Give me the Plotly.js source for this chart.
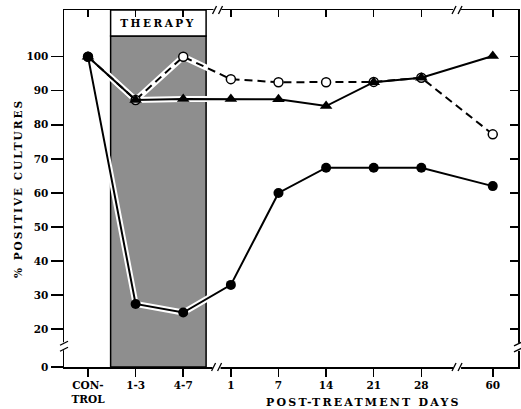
<!DOCTYPE html>
<html>
<head>
<meta charset="utf-8">
<script src="https://cdn.plot.ly/plotly-3.0.1.min.js"></script>
<style>body{margin:0;background:#fff}#chart{width:521px;height:409px}</style>
</head>
<body>
<div id="chart"></div>
<script>
// ---- data ----
const xLabels = ['CON-<br>TROL', '1-3', '4-7', '1', '7', '14', '21', '28', '60'];
const xPos = [0, 1, 2, 3, 4, 5, 6, 7, 8.5];
const filledCircle = [100, 27.4, 24.9, 33.0, 60.0, 67.4, 67.4, 67.4, 62.0];
const openCircle = [100, 87.3, 100, 93.4, 92.5, 92.5, 92.6, 93.8, 77.2];
const triangle = [100, 87.3, 87.6, 87.6, 87.5, 85.5, 92.5, 93.8, 100.2];
const yTickVals = [8.9, 20, 30, 40, 50, 60, 70, 80, 90, 100];
const yTickText = ['0', '20', '30', '40', '50', '60', '70', '80', '90', '100'];

const FONT = 'DejaVu Serif, Liberation Serif, serif';
const XR = [-0.504, 9.03];
const YR = [8.9, 113.7];
const therapyX = [0.475, 2.48];
const therapyYSplit = 106.1;

const inShade = 4; // first points (control..day 1) get a white halo
function halo(y) {
  return {x: xPos.slice(0, inShade), y: y.slice(0, inShade), mode: 'lines',
    line: {color: 'white', width: 6}, showlegend: false, hoverinfo: 'skip'};
}

const traces = [
  halo(filledCircle), halo(openCircle), halo(triangle),
  {x: xPos, y: openCircle, mode: 'lines+markers', name: 'open',
   line: {color: 'black', width: 2, dash: '8px,5px'},
   marker: {symbol: 'circle', size: 9, color: 'white', line: {color: 'black', width: 1.5}}},
  {x: xPos, y: triangle, mode: 'lines+markers', name: 'triangle',
   line: {color: 'black', width: 2},
   marker: {symbol: 'triangle-up', size: 11, color: 'black'}},
  {x: xPos, y: filledCircle, mode: 'lines+markers', name: 'filled',
   line: {color: 'black', width: 2},
   marker: {symbol: 'circle', size: 10, color: 'black'}},
  {x: [null], y: [null], xaxis: 'x2', yaxis: 'y2', showlegend: false, hoverinfo: 'skip'}
];

function brk(axis, anchor) {
  const s = [];
  const base = {xsizemode: 'pixel', ysizemode: 'pixel', layer: 'above'};
  if (axis === 'xb' || axis === 'xt') {
    const yp = axis === 'xb' ? 0 : 1;
    Object.assign(base, {xref: 'x', yref: 'paper', xanchor: anchor, yanchor: yp});
    s.push(Object.assign({type: 'rect', x0: -4, x1: 4, y0: -3, y1: 3, fillcolor: 'white', line: {width: 0}}, base));
    s.push(Object.assign({type: 'line', x0: -5, x1: -1, y0: -4, y1: 4, line: {color: 'black', width: 1.3}}, base));
    s.push(Object.assign({type: 'line', x0: 1, x1: 5, y0: -4, y1: 4, line: {color: 'black', width: 1.3}}, base));
  } else {
    const xp = axis === 'yl' ? 0 : 1;
    Object.assign(base, {xref: 'paper', yref: 'y', xanchor: xp, yanchor: anchor});
    s.push(Object.assign({type: 'rect', x0: -3, x1: 3, y0: -4, y1: 4, fillcolor: 'white', line: {width: 0}}, base));
    s.push(Object.assign({type: 'line', x0: -4, x1: 4, y0: -5, y1: -1, line: {color: 'black', width: 1.3}}, base));
    s.push(Object.assign({type: 'line', x0: -4, x1: 4, y0: 1, y1: 5, line: {color: 'black', width: 1.3}}, base));
  }
  return s;
}

const shapes = [
  {type: 'rect', xref: 'x', yref: 'y', x0: therapyX[0], x1: therapyX[1], y0: YR[0], y1: therapyYSplit,
   fillcolor: '#8e8e8e', line: {color: 'black', width: 1.5}, layer: 'below'},
  {type: 'rect', xref: 'x', yref: 'y', x0: therapyX[0], x1: therapyX[1], y0: therapyYSplit, y1: YR[1],
   fillcolor: 'white', line: {color: 'black', width: 1.5}, layer: 'below'}
].concat(brk('xb', 2.7), brk('xt', 2.72), brk('xb', 7.75), brk('xt', 7.75), brk('yl', 15), brk('yr', 14.8));

const tickFont = {family: FONT, size: 10.5, color: 'black', weight: 700};

const layout = {
  width: 521, height: 409,
  margin: {l: 64, r: 3, t: 10, b: 42},
  paper_bgcolor: 'white', plot_bgcolor: 'white',
  showlegend: false,
  xaxis: {range: XR, tickvals: xPos, ticktext: xLabels, ticks: 'outside', ticklen: 8, tickwidth: 1.5,
    tickcolor: 'black', showline: true, linecolor: 'black', linewidth: 1.5, mirror: true,
    showgrid: false, zeroline: false, tickfont: tickFont},
  yaxis: {range: YR, tickvals: yTickVals, ticktext: yTickText, ticks: 'outside', ticklen: 12, tickwidth: 1.5,
    tickcolor: 'black', showline: true, linecolor: 'black', linewidth: 1.5, mirror: true,
    showgrid: false, zeroline: false, tickfont: tickFont,
    title: {text: '% POSITIVE CULTURES', font: {family: FONT, size: 10.5, color: 'black', weight: 700}, standoff: 2}},
  xaxis2: {overlaying: 'x', side: 'top', range: XR, tickvals: xPos, showticklabels: false, ticks: 'inside',
    ticklen: 7, tickwidth: 1.5, tickcolor: 'black', showline: false, showgrid: false, zeroline: false},
  yaxis2: {overlaying: 'y', side: 'right', range: YR, tickvals: yTickVals.slice(1), showticklabels: false,
    ticks: 'inside', ticklen: 8, tickwidth: 1.5, tickcolor: 'black', showline: false, showgrid: false, zeroline: false},
  shapes: shapes,
  annotations: [
    {text: 'THERAPY', xref: 'x', yref: 'y', x: (therapyX[0] + therapyX[1]) / 2, y: (therapyYSplit + YR[1]) / 2,
     showarrow: false, font: {family: FONT, size: 10.5, color: 'black', weight: 700}},
    {text: 'POST-TREATMENT DAYS', xref: 'paper', yref: 'paper', x: 0.66, y: -0.1, yanchor: 'middle',
     showarrow: false, font: {family: FONT, size: 11, color: 'black', weight: 700}}
  ]
};

Plotly.newPlot('chart', traces, layout, {staticPlot: true}).then(function () {
  document.querySelectorAll('.annotation-text').forEach(function (t) {
    t.style.letterSpacing = t.textContent === 'THERAPY' ? '2.5px' : '2.2px';
  });
  document.querySelectorAll('.ytitle').forEach(function (t) { t.style.letterSpacing = '2px'; });
});
</script>
</body>
</html>
